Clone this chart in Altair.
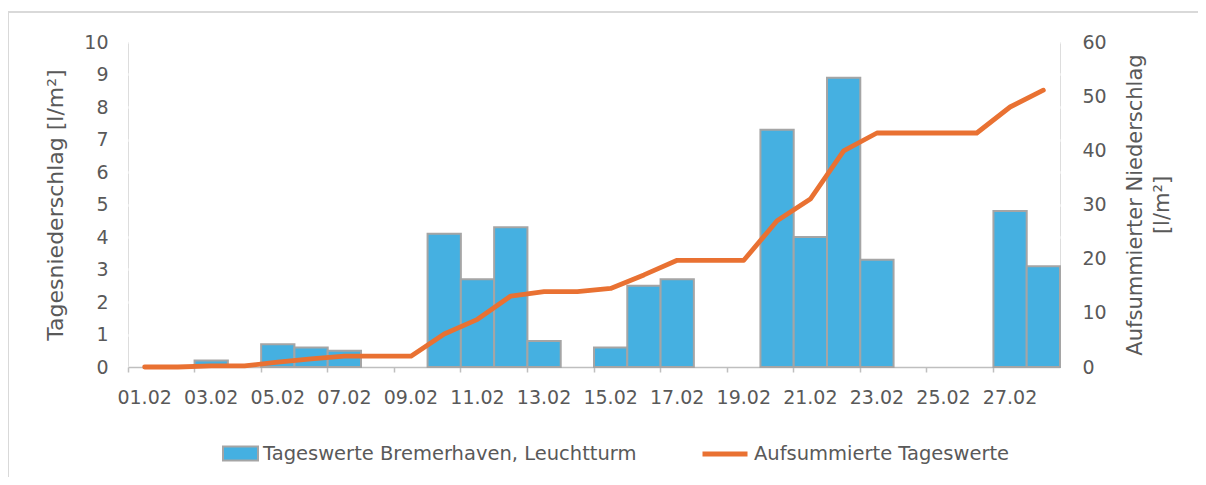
import altair as alt
import pandas as pd

dates = ["01.02", "02.02", "03.02", "04.02", "05.02", "06.02", "07.02", "08.02",
         "09.02", "10.02", "11.02", "12.02", "13.02", "14.02", "15.02", "16.02",
         "17.02", "18.02", "19.02", "20.02", "21.02", "22.02", "23.02", "24.02",
         "25.02", "26.02", "27.02", "28.02"]
daily = [0, 0, 0.2, 0, 0.7, 0.6, 0.5, 0, 0, 4.1, 2.7, 4.3, 0.8, 0, 0.6, 2.5,
         2.7, 0, 0, 7.3, 4.0, 8.9, 3.3, 0, 0, 0, 4.8, 3.1]
cumulative = [0, 0, 0.2, 0.2, 0.9, 1.5, 2.0, 2.0, 2.0, 6.1, 8.8, 13.1, 13.9, 13.9,
              14.5, 17.0, 19.7, 19.7, 19.7, 27.0, 31.0, 39.9, 43.2, 43.2, 43.2,
              43.2, 48.0, 51.1]
label_dates = ["01.02", "03.02", "05.02", "07.02", "09.02", "11.02", "13.02",
               "15.02", "17.02", "19.02", "21.02", "23.02", "25.02", "27.02"]
bar_name = "Tageswerte Bremerhaven, Leuchtturm"
line_name = "Aufsummierte Tageswerte"

df = pd.DataFrame({"date": dates, "daily": daily, "cum": cumulative,
                   "s1": bar_name, "s2": line_name})

FONT = "DejaVu Sans"
GREY = "#595959"

x_enc = alt.X(
    "date:O",
    sort=dates,
    scale=alt.Scale(domain=dates, paddingInner=0, paddingOuter=0),
    axis=alt.Axis(
        title=None, values=label_dates, labelAngle=0, bandPosition=0,
        labelOffset=0, tickSize=5, tickColor="#bfbfbf", tickWidth=1.5,
        domainColor="#bfbfbf", domainWidth=1.5, labelFont=FONT, labelFontSize=19,
        labelColor=GREY, labelPadding=16, grid=False,
    ),
)

bars = alt.Chart(df).transform_filter("datum.daily > 0").mark_bar(
    stroke="#a5a5a5", strokeWidth=2
).encode(
    x=x_enc,
    y=alt.Y("daily:Q", scale=alt.Scale(domain=[0, 10], nice=False),
            axis=alt.Axis(title="Tagesniederschlag [l/m²]", values=list(range(0, 11)),
                          orient="left", ticks=False, domain=False, labelFont=FONT,
                          labelFontSize=19, labelColor=GREY, labelPadding=20,
                          titleFont=FONT, titleFontSize=22, titleColor=GREY,
                          titleFontWeight="normal", titlePadding=16,
                          grid=True, gridColor="white", gridWidth=2.5)),
    fill=alt.Fill("s1:N", scale=alt.Scale(domain=[bar_name], range=["#45b0e1"]),
                  legend=alt.Legend(orient="none", legendX=94, legendY=393, title=None,
                                    padding=0, symbolType="M-1,-0.4H1V0.4H-1Z",
                                    symbolSize=1225, symbolStrokeColor="#a5a5a5",
                                    symbolStrokeWidth=2, symbolOpacity=1,
                                    labelFont=FONT, labelFontSize=19.5,
                                    labelColor=GREY, labelLimit=0, labelOffset=4)),
)

line = alt.Chart(df).mark_line(strokeWidth=4.8, strokeCap="round", strokeJoin="round").encode(
    x=alt.X("date:O", sort=dates),
    y=alt.Y("cum:Q", scale=alt.Scale(domain=[0, 60], nice=False),
            axis=alt.Axis(title=["Aufsummierter Niederschlag", "[l/m²]"],
                          values=[0, 10, 20, 30, 40, 50, 60], orient="right",
                          ticks=False, domain=False, labelFont=FONT, labelFontSize=19,
                          labelColor=GREY, labelPadding=22, titleFont=FONT,
                          titleFontSize=21, titleColor=GREY, titleFontWeight="normal",
                          titleAngle=-90, titlePadding=12, titleLineHeight=27,
                          grid=False)),
    stroke=alt.Stroke("s2:N", scale=alt.Scale(domain=[line_name], range=["#e97132"]),
                      legend=alt.Legend(orient="none", legendX=572, legendY=387, title=None,
                                        padding=0, symbolType="stroke", symbolSize=2025,
                                        symbolStrokeWidth=4.8, labelFont=FONT,
                                        labelFontSize=19.5, labelColor=GREY,
                                        labelLimit=0, labelOffset=4)),
)

one = alt.Data(values=[{"k": 1}])
frame_top = alt.Chart(one).mark_rule(color="#d9d9d9", strokeWidth=2).encode(
    x=alt.value(-120), x2=alt.value(1080), y=alt.value(-30))
frame_left = alt.Chart(one).mark_rule(color="#d9d9d9", strokeWidth=2).encode(
    x=alt.value(-120), y=alt.value(-30), y2=alt.value(440))

chart = alt.layer(bars, line, frame_top, frame_left).resolve_scale(
    y="independent", fill="independent", stroke="independent"
).properties(
    width=932, height=325,
    autosize=alt.AutoSizeParams(type="none"),
    padding={"left": 120, "top": 34, "right": 138, "bottom": 110},
).configure_view(fill="#eeeeee", stroke=None).configure(font=FONT)

chart.save("out.html", embed_options={"renderer": "svg", "actions": False})
